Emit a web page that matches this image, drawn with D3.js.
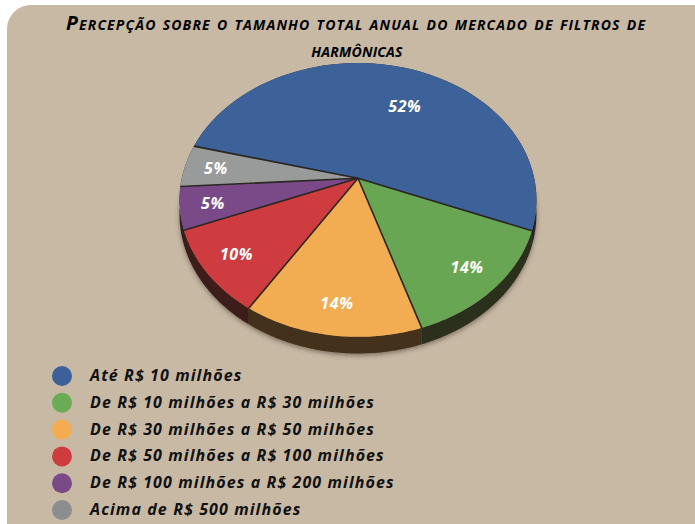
<!DOCTYPE html>
<html>
<head>
<meta charset="utf-8">
<script src="https://cdn.jsdelivr.net/npm/d3@7"></script>
<style>
  html, body { margin: 0; padding: 0; background: #ffffff; }
  svg { display: block; }
  .title { font-family: "Open Sans", Lato, sans-serif; font-weight: 700; font-style: italic; font-variant: small-caps; }
  .legend-label { font-family: "Open Sans", Lato, sans-serif; font-weight: 700; font-style: italic; }
  .pct { font-family: "Open Sans", Lato, sans-serif; font-weight: 700; font-style: italic; fill: #fff; }
</style>
</head>
<body>
<div id="chart"></div>
<script>
// data
const categories = [
  "Até R$ 10 milhões",
  "De R$ 10 milhões a R$ 30 milhões",
  "De R$ 30 milhões a R$ 50 milhões",
  "De R$ 50 milhões a R$ 100 milhões",
  "De R$ 100 milhões a R$ 200 milhões",
  "Acima de R$ 500 milhões"
];
const shares = [52, 14, 14, 10, 5, 5];
const sliceColors = ["#3d6199", "#69a654", "#f2ad52", "#cf3c40", "#7a4a88", "#999a9a"];
const legendColors = ["#3b6198", "#6aac55", "#f3ac52", "#cf3c40", "#7a4a87", "#8b8d8e"];
const titleLines = ["Percepção sobre o tamanho total anual do mercado de filtros de", "harmônicas"];

const W = 695, H = 524;
const svg = d3.select("#chart").append("svg").attr("width", W).attr("height", H);

// beige panel with rounded corners (runs off the right/bottom edge)
svg.append("rect").attr("x", 7).attr("y", 5).attr("width", 712).attr("height", 545)
  .attr("rx", 24).attr("fill", "#c8b9a5");

// title, stretched to the width it has in the original
svg.append("text").attr("class", "title").attr("x", 66).attr("y", 30)
  .attr("font-size", 19.5).attr("textLength", 579).attr("lengthAdjust", "spacing").text(titleLines[0]);
svg.append("text").attr("class", "title").attr("x", 357).attr("y", 57)
  .attr("text-anchor", "middle").attr("font-size", 19.5).attr("letter-spacing", 0.2).text(titleLines[1]);

// tilted pie: unit disc -> screen through a simple perspective
const cx = 358, cy = 178.3, ax = 176.2, by = 133.5, persp = 0.158, depth = 14;
const rScale = d3.scaleLinear().domain([0, 1]).range([0, 1]);
const proj = (ang, r) => {
  const x = rScale(r) * Math.sin(ang), y = -rScale(r) * Math.cos(ang);
  const w = 1 - persp * y;
  return [cx + ax * x / w, cy + by * y / w, w];
};
const arcPoints = (a0, a1) => d3.range(0, 61).map(i => a0 + (a1 - a0) * i / 60);

const pie = d3.pie().sort(null).startAngle(-75.5 * Math.PI / 180).endAngle((360 - 75.5) * Math.PI / 180);
const slices = pie(shares);
const line = d3.line();

const defs = svg.append("defs");
defs.append("filter").attr("id", "soft").attr("x", "-20%").attr("y", "-20%").attr("width", "140%").attr("height", "140%")
  .append("feGaussianBlur").attr("stdDeviation", 2.5);

const pieG = svg.append("g");

// soft shadow under the disc
const rim = arcPoints(0, 2 * Math.PI).map(a => { const p = proj(a, 1); return [p[0], p[1] + depth / p[2] + 2]; });
pieG.append("path").attr("d", line(rim) + "Z").attr("fill", "#3a2f24").attr("opacity", 0.55).attr("filter", "url(#soft)");

// side walls
pieG.selectAll(".side").data(slices).join("path").attr("class", "side")
  .attr("d", d => {
    const top = arcPoints(d.startAngle, d.endAngle).map(a => proj(a, 1));
    const bottom = top.map(p => [p[0], p[1] + depth / p[2]]).reverse();
    return line(top.map(p => [p[0], p[1]]).concat(bottom)) + "Z";
  })
  .attr("fill", (d, i) => d3.interpolateRgb(sliceColors[i], "#1c1610")(0.82));

// top faces
pieG.selectAll(".slice").data(slices).join("path").attr("class", "slice")
  .attr("d", d => {
    const pts = [proj(0, 0)].concat(arcPoints(d.startAngle, d.endAngle).map(a => proj(a, 1)));
    return line(pts.map(p => [p[0], p[1]])) + "Z";
  })
  .attr("fill", (d, i) => sliceColors[i]);

// dark separators between slices
pieG.selectAll(".sep").data(slices).join("path").attr("class", "sep")
  .attr("d", d => line([proj(0, 0), proj(d.startAngle, 1)].map(p => [p[0], p[1]])))
  .attr("stroke", "#2a2620").attr("stroke-width", 1.6).attr("fill", "none");

// percentage labels
const labelPos = d => proj((d.startAngle + d.endAngle) / 2 + (d.value > 40 ? 0.14 : 0), d.value > 40 ? 0.66 : 0.82);
pieG.selectAll(".pct").data(slices).join("text").attr("class", "pct")
  .attr("font-size", 16).attr("text-anchor", "middle").attr("letter-spacing", 0.6)
  .attr("x", d => labelPos(d)[0])
  .attr("y", d => labelPos(d)[1] + 6)
  .text(d => d.value + "%");

// legend
const legY = d3.scaleLinear().domain([0, categories.length - 1]).range([376, 510]);
const leg = svg.append("g").selectAll("g").data(categories).join("g")
  .attr("transform", (d, i) => `translate(62,${legY(i)})`);
leg.append("circle").attr("r", 10).attr("fill", (d, i) => legendColors[i]);
leg.append("text").attr("class", "legend-label").attr("x", 28).attr("y", 5)
  .attr("font-size", 16).attr("letter-spacing", 1.1).attr("fill", "#111").text(d => d);
</script>
</body>
</html>
